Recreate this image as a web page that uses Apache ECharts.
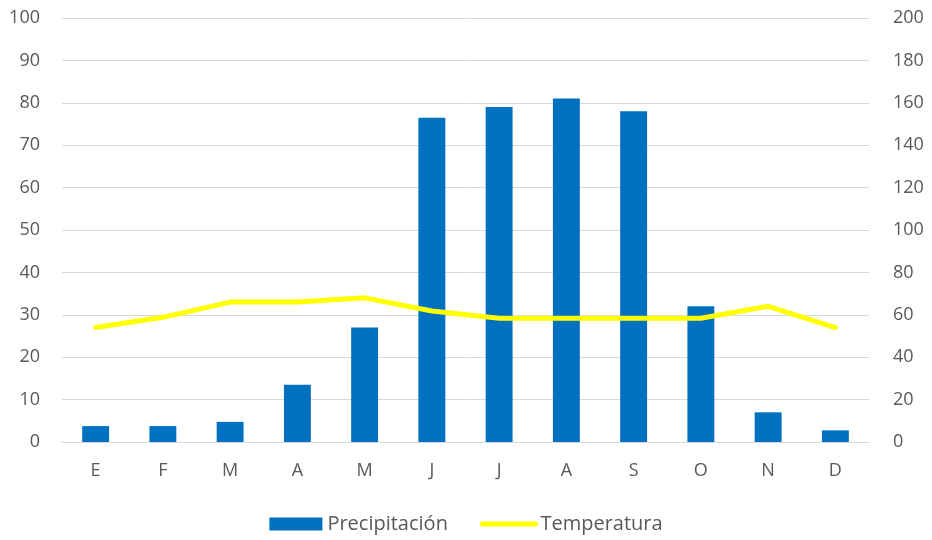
<!DOCTYPE html>
<html><head><meta charset="utf-8">
<script src="https://cdn.jsdelivr.net/npm/echarts@6/dist/echarts.min.js"></script>
<style>html,body{margin:0;padding:0;background:#fff}#c{width:932px;height:540px}</style>
</head><body><div id="c"></div>
<script>
const months = ['E','F','M','A','M','J','J','A','S','O','N','D'];
const precipitacion = [7.5, 7.5, 9.5, 27, 54, 153, 158, 162, 156, 64, 14, 5.5];
const temperatura = [27, 29.4, 33, 33, 34, 30.9, 29.2, 29.2, 29.2, 29.2, 32, 27];
const leftTicks = {min: 0, max: 100, interval: 10};
const rightTicks = {min: 0, max: 200, interval: 20};

const font = 'Open Sans';
const txt = '#595959';
const fs = 18;
const chart = echarts.init(document.getElementById('c'), null, {renderer: 'canvas'});
chart.setOption({
  animation: false,
  textStyle: {fontFamily: font},
  grid: {left: 62, right: 63, top: 18, bottom: 98, containLabel: false},
  legend: {
    bottom: 1, left: 'center', itemGap: 32, itemWidth: 53, itemHeight: 13,
    textStyle: {color: txt, fontSize: 20, fontFamily: font},
    data: [
      {name: 'Precipitación', icon: 'rect'},
      {name: 'Temperatura', itemStyle: {opacity: 0}, lineStyle: {color: '#FFFF00', width: 5, cap: 'round'}}
    ]
  },
  xAxis: {
    type: 'category', data: months,
    axisLine: {show: true, lineStyle: {color: '#d9d9d9', width: 1}},
    axisTick: {show: false},
    axisLabel: {color: txt, fontSize: fs, margin: 20, fontFamily: font}
  },
  yAxis: [
    {type: 'value', min: leftTicks.min, max: leftTicks.max, interval: leftTicks.interval, position: 'left',
     axisLine: {show: false}, axisTick: {show: false},
     axisLabel: {color: txt, fontSize: fs, margin: 22, fontFamily: font},
     splitLine: {lineStyle: {color: '#d9d9d9', width: 1}}},
    {type: 'value', min: rightTicks.min, max: rightTicks.max, interval: rightTicks.interval, position: 'right',
     axisLine: {show: false}, axisTick: {show: false},
     axisLabel: {color: txt, fontSize: fs, margin: 24, fontFamily: font},
     splitLine: {show: false}}
  ],
  series: [
    {name: 'Precipitación', type: 'bar', yAxisIndex: 1, data: precipitacion,
     barWidth: '40%', itemStyle: {color: '#0070C0'}},
    {name: 'Temperatura', type: 'line', yAxisIndex: 0, data: temperatura,
     symbol: 'circle', showSymbol: false, lineStyle: {color: '#FFFF00', width: 5, cap: 'round', join: 'round'},
     itemStyle: {color: '#FFFF00'}}
  ]
});
</script></body></html>
